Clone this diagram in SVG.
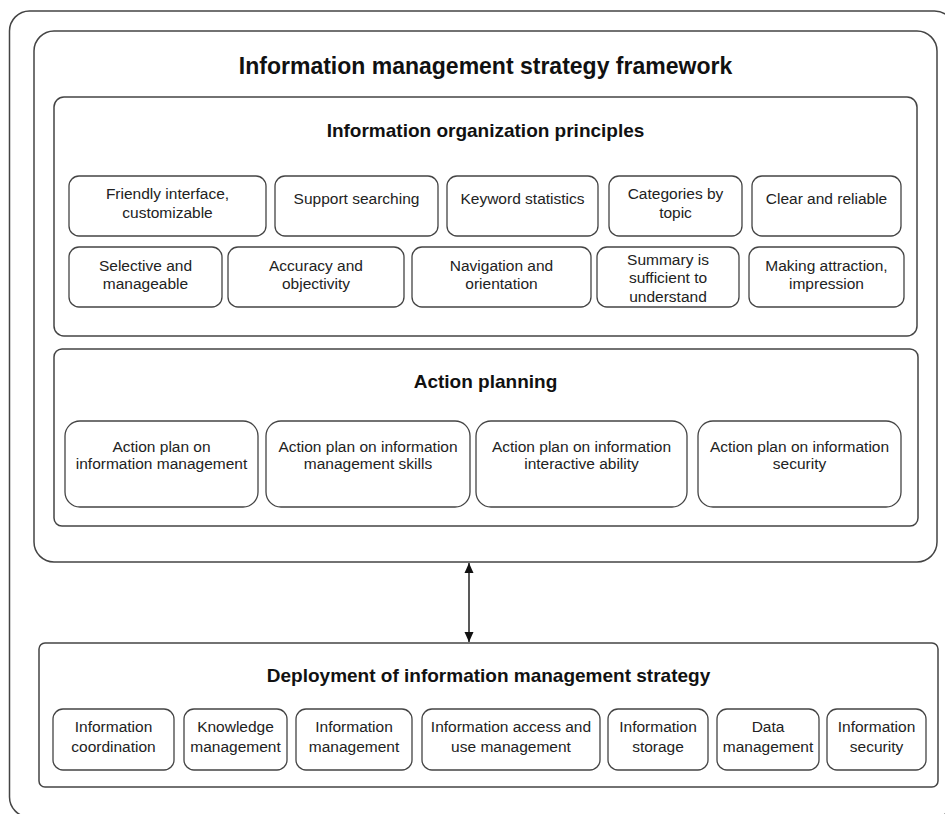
<svg xmlns="http://www.w3.org/2000/svg" width="945" height="814" viewBox="0 0 945 814">
<defs>
<style>
.box{fill:#fff;stroke:#444;stroke-width:1.5}
.sm{fill:#fff;stroke:#444;stroke-width:1.3}
.t{font-family:"Liberation Sans",Arial,sans-serif;font-size:15.5px;fill:#222;text-anchor:middle}
.h{font-family:"Liberation Sans",Arial,sans-serif;font-size:19px;font-weight:bold;fill:#111;text-anchor:middle}
.h1{font-family:"Liberation Sans",Arial,sans-serif;font-size:23px;font-weight:bold;fill:#111;text-anchor:middle}
.c{stroke:#222;stroke-width:1.5;fill:none}
</style>
<marker id="ah" viewBox="0 0 10 10" refX="10" refY="5" markerWidth="10" markerHeight="10" markerUnits="userSpaceOnUse" orient="auto-start-reverse">
<path d="M0,0.5 L10,5 L0,9.5 z" fill="#111"/>
</marker>
</defs>
<rect width="945" height="814" fill="#fff"/>
<g id="outer"><rect class="box" x="9.5" y="11" width="945" height="806" rx="20"/></g>
<g id="framework">
<rect class="box" x="34" y="31" width="903" height="531" rx="20"/>
<text class="h1" x="485.5" y="74">Information management strategy framework</text>
</g>
<g id="org-principles">
<rect class="box" x="54" y="97" width="863" height="239" rx="10"/>
<text class="h" x="485.5" y="137">Information organization principles</text>
</g>
<g id="p1"><rect class="sm" x="69" y="176" width="197" height="60" rx="10"/><text class="t" x="167.5" y="199">Friendly interface,</text><text class="t" x="167.5" y="218">customizable</text></g>
<g id="p2"><rect class="sm" x="275" y="176" width="163" height="60" rx="10"/><text class="t" x="356.5" y="204">Support searching</text></g>
<g id="p3"><rect class="sm" x="447" y="176" width="151" height="60" rx="10"/><text class="t" x="522.5" y="204">Keyword statistics</text></g>
<g id="p4"><rect class="sm" x="609" y="176" width="133" height="60" rx="10"/><text class="t" x="675.5" y="199">Categories by</text><text class="t" x="675.5" y="218">topic</text></g>
<g id="p5"><rect class="sm" x="752" y="176" width="149" height="60" rx="10"/><text class="t" x="826.5" y="204">Clear and reliable</text></g>
<g id="p6"><rect class="sm" x="69" y="247" width="153" height="60" rx="10"/><text class="t" x="145.5" y="271">Selective and</text><text class="t" x="145.5" y="289">manageable</text></g>
<g id="p7"><rect class="sm" x="228" y="247" width="176" height="60" rx="10"/><text class="t" x="316" y="271">Accuracy and</text><text class="t" x="316" y="289">objectivity</text></g>
<g id="p8"><rect class="sm" x="412" y="247" width="179" height="60" rx="10"/><text class="t" x="501.5" y="271">Navigation and</text><text class="t" x="501.5" y="289">orientation</text></g>
<g id="p9"><rect class="sm" x="597" y="247" width="142" height="60" rx="10"/><text class="t" x="668" y="265">Summary is</text><text class="t" x="668" y="283">sufficient to</text><text class="t" x="668" y="302">understand</text></g>
<g id="p10"><rect class="sm" x="749" y="247" width="155" height="60" rx="10"/><text class="t" x="826.5" y="271">Making attraction,</text><text class="t" x="826.5" y="289">impression</text></g>
<g id="action-planning">
<rect class="box" x="54" y="349" width="864" height="177" rx="8"/>
<text class="h" x="485.5" y="388">Action planning</text>
</g>
<g id="a1"><rect class="sm" x="65" y="421" width="193" height="86" rx="15"/><text class="t" x="161.5" y="452">Action plan on</text><text class="t" x="161.5" y="469">information management</text></g>
<g id="a2"><rect class="sm" x="266" y="421" width="204" height="86" rx="15"/><text class="t" x="368" y="452">Action plan on information</text><text class="t" x="368" y="469">management skills</text></g>
<g id="a3"><rect class="sm" x="476" y="421" width="211" height="86" rx="15"/><text class="t" x="581.5" y="452">Action plan on information</text><text class="t" x="581.5" y="469">interactive ability</text></g>
<g id="a4"><rect class="sm" x="698" y="421" width="203" height="86" rx="15"/><text class="t" x="799.5" y="452">Action plan on information</text><text class="t" x="799.5" y="469">security</text></g>
<g id="deployment">
<rect class="box" x="39" y="643" width="899" height="144" rx="6"/>
<text class="h" x="488.5" y="682">Deployment of information management strategy</text>
</g>
<g id="d1"><rect class="sm" x="53" y="709" width="121" height="61" rx="10"/><text class="t" x="113.5" y="732">Information</text><text class="t" x="113.5" y="752">coordination</text></g>
<g id="d2"><rect class="sm" x="184" y="709" width="103" height="61" rx="10"/><text class="t" x="235.5" y="732">Knowledge</text><text class="t" x="235.5" y="752">management</text></g>
<g id="d3"><rect class="sm" x="296" y="709" width="116" height="61" rx="10"/><text class="t" x="354" y="732">Information</text><text class="t" x="354" y="752">management</text></g>
<g id="d4"><rect class="sm" x="422" y="709" width="178" height="61" rx="10"/><text class="t" x="511" y="732">Information access and</text><text class="t" x="511" y="752">use management</text></g>
<g id="d5"><rect class="sm" x="608" y="709" width="100" height="61" rx="10"/><text class="t" x="658" y="732">Information</text><text class="t" x="658" y="752">storage</text></g>
<g id="d6"><rect class="sm" x="717" y="709" width="102" height="61" rx="10"/><text class="t" x="768" y="732">Data</text><text class="t" x="768" y="752">management</text></g>
<g id="d7"><rect class="sm" x="827" y="709" width="99" height="61" rx="10"/><text class="t" x="876.5" y="732">Information</text><text class="t" x="876.5" y="752">security</text></g>
<g id="connectors">
<line class="c" x1="469" y1="563" x2="469" y2="642" marker-start="url(#ah)" marker-end="url(#ah)"/>
</g>
</svg>
